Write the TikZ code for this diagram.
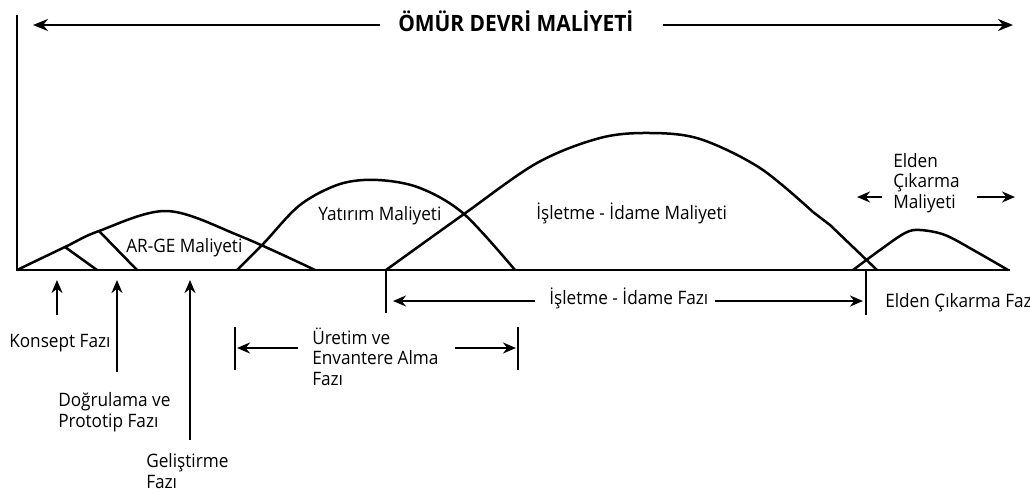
\documentclass[tikz,border=0pt]{standalone}
\usepackage{fontspec}
\setmainfont{Open Sans}[FakeStretch=0.93]
\usepackage{tikz}
\usetikzlibrary{arrows.meta}

\begin{document}
\begin{tikzpicture}[x=1pt,y=-1pt,>={Stealth[length=13pt,width=11pt]},line width=2.5pt,
  lbl/.style={font=\fontsize{18.5}{20.5}\selectfont,inner sep=0pt,align=left,anchor=base west}]
\useasboundingbox (0,0) rectangle (1030,493);
% axes
\coordinate (top) at (17,15);
\coordinate (o) at (17,270);
\coordinate (xend) at (1010,270);
\draw (top)--(o)--(xend);
% life cycle cost arrow
\node[lbl,font=\fontsize{22.5}{24}\bfseries\selectfont] (omur) at (397,31) {ÖMÜR DEVRİ MALİYETİ};
\coordinate (omurL) at (33,25);
\coordinate (omurR) at (1013,25);
\draw[->,>={Stealth[length=15pt,width=12pt]}] (380,25) coordinate (omurLt) -- (omurL);
\draw[->,>={Stealth[length=15pt,width=12pt]}] (663,25) coordinate (omurRt) -- (omurR);
% cost curves
\draw[line join=round] plot[smooth,tension=0.55] coordinates
  {(17,270) (65,247) (99,231) (167,211) (240,236) (315,270)};
\draw (65,247)--(97,270) (99,231)--(137,270);
\draw plot[smooth,tension=0.55] coordinates
  {(237,270) (264,243) (300,205) (340,184) (378,180) (420,188) (464,214) (515,270)};
\draw plot[smooth,tension=0.55] coordinates
  {(386,270) (464,214) (537,163) (600,138) (650,133) (700,139) (760,168) (813,212)};
\draw (813,212)--(830,225)--(877,270);
\draw plot[smooth,tension=0.55] coordinates
  {(853,270) (880,250) (905,233) (920,230) (945,235) (975,251) (1008,270)};
\node[lbl] (arge) at (125,252) {AR-GE Maliyeti};
\node[lbl] (yatirim) at (317,220) {Yatırım Maliyeti};
\node[lbl] (isletme) at (535,219) {İşletme - İdame Maliyeti};
% phase markers
\coordinate (isA) at (386,270);
\coordinate (isB) at (386,313);
\coordinate (elA) at (866,270);
\coordinate (elB) at (866,315);
\draw (isA)--(isB) (elA)--(elB);
\node[lbl] (isFaz) at (548,304) {İşletme - İdame Fazı};
\draw[->] (535,301) coordinate (isL) -- (393,301);
\draw[->] (715,301) coordinate (isR) -- (863,301);
\node[lbl] (elFaz) at (884,307) {Elden Çıkarma Faz};
% production phase
\coordinate (urA) at (235,327);
\coordinate (urB) at (235,370);
\coordinate (urC) at (518,327);
\coordinate (urD) at (518,370);
\draw (urA)--(urB) (urC)--(urD);
\node[lbl] (uretim) at (311,385) {Üretim ve\\Envantere Alma\\Fazı};
\draw[->] (298,348) coordinate (urL) -- (237,348);
\draw[->] (455,348) coordinate (urR) -- (516,348);
% disposal cost
\node[lbl] (elden) at (892,208) {Elden\\Çıkarma\\Maliyeti};
\draw[->] (882,197) coordinate (elL) -- (857,197);
\draw[->] (977,197) coordinate (elR) -- (1015,197);
% development phases
\node[lbl] (konsept) at (8,347) {Konsept Fazı};
\node[lbl] (dogrulama) at (57,427) {Doğrulama ve\\Prototip Fazı};
\node[lbl] (gelistirme) at (145,488) {Geliştirme\\Fazı};
\draw[->] (57,315) coordinate (kA) -- (57,280);
\draw[->] (117,372) coordinate (dA) -- (117,280);
\draw[->] (190,440) coordinate (gA) -- (190,280);
\end{tikzpicture}
\end{document}
